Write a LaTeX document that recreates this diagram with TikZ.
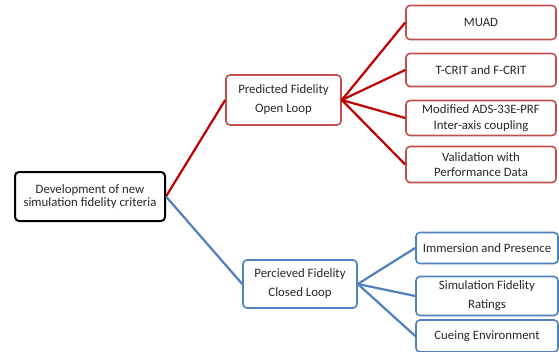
\documentclass[tikz,border=0pt]{standalone}
\usepackage{fontspec}
\setmainfont{Carlito}
\definecolor{redline}{RGB}{192,0,0}
\definecolor{redbox}{RGB}{192,80,77}
\definecolor{blueline}{RGB}{79,129,189}
\definecolor{txt}{RGB}{40,40,40}

\begin{document}
\begin{tikzpicture}[x=1pt, y=-1pt,
    every node/.style={font=\fontsize{12.8}{14}\selectfont, text=txt, align=center, inner sep=0pt},
    box/.style={draw, rounded corners=4pt, line width=1.6pt},
    rootbox/.style={box, draw=black, line width=2pt, minimum width=150pt, minimum height=49pt},
    redmid/.style={box, draw=redbox, minimum width=115pt, minimum height=50pt},
    redleaf/.style={box, draw=redbox, minimum width=150pt},
    bluemid/.style={box, draw=blueline, minimum width=114pt, minimum height=48pt},
    blueleaf/.style={box, draw=blueline, minimum width=142pt},
    redlink/.style={draw=redline, line width=2.2pt},
    bluelink/.style={draw=blueline, line width=2.2pt}]
    \useasboundingbox[fill=white] (0,0) rectangle (559,351);

    \node[rootbox] (root) at (90,196.5) {Development of new\\[-1pt]simulation fidelity criteria};

    \node[redmid] (pred) at (283.5,100) {Predicted Fidelity\\[5pt]Open Loop};
    \node[redleaf, minimum height=34pt] (muad) at (481,22.5) {MUAD};
    \node[redleaf, minimum height=33pt] (crit) at (481,70) {T-CRIT and F-CRIT};
    \node[redleaf, minimum height=35pt] (ads) at (481,118) {Modified ADS-33E-PRF\\[2pt]Inter-axis coupling};
    \node[redleaf, minimum height=36pt] (valid) at (481,164.5) {Validation with\\[1pt]Performance Data};

    \node[bluemid] (perc) at (300,284) {Percieved Fidelity\\[5pt]Closed Loop};
    \node[blueleaf, minimum height=31pt] (imm) at (487,248) {Immersion and Presence};
    \node[blueleaf, minimum height=39pt] (sfr) at (487,296) {Simulation Fidelity\\[5pt]Ratings};
    \node[blueleaf, minimum height=32pt] (cue) at (487,336) {Cueing Environment};

    % branches from the root
    \draw[redlink] (root.east) -- (pred.west);
    \draw[bluelink] (root.east) -- (perc.west);
    % open loop criteria
    \foreach \leaf in {muad,crit,ads,valid}
      \draw[redlink] (pred.east) -- (\leaf.west);
    % closed loop criteria
    \foreach \leaf in {imm,sfr,cue}
      \draw[bluelink] (perc.east) -- (\leaf.west);
\end{tikzpicture}
\end{document}
